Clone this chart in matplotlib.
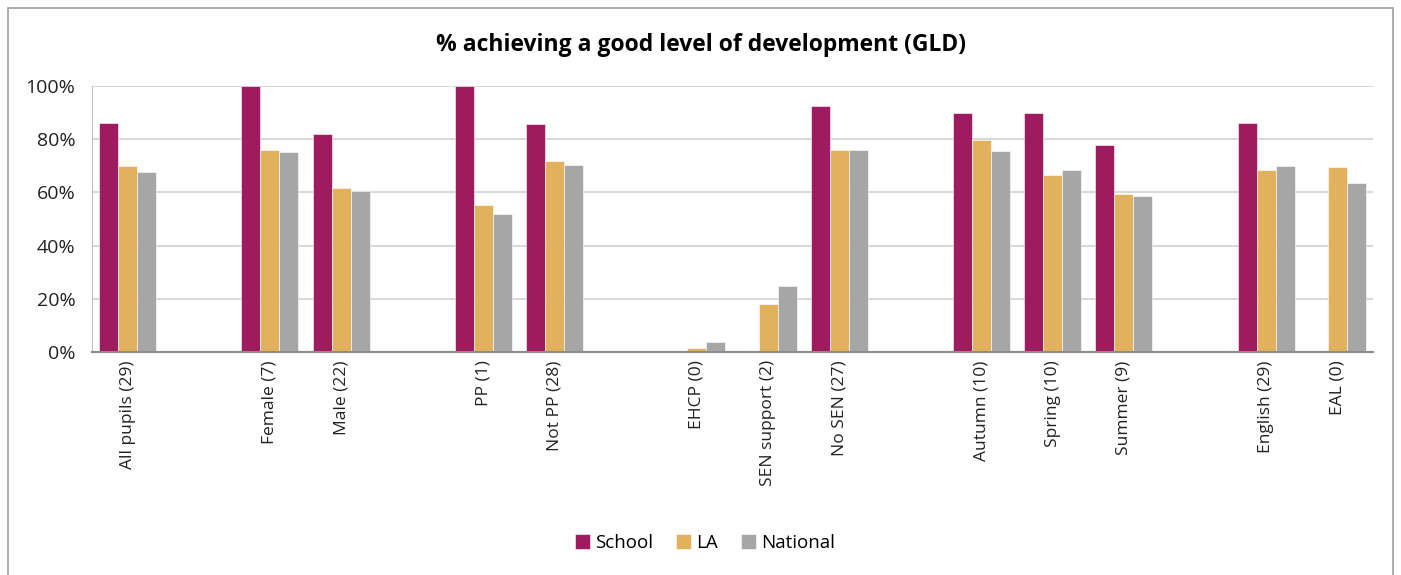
import matplotlib.pyplot as plt
import numpy as np
from matplotlib.patches import Rectangle

plt.rcParams['font.family'] = ['Open Sans', 'DejaVu Sans']

# blank strings are the spacer slots between groups
categories = ['All pupils (29)', '', 'Female (7)', 'Male (22)', '', 'PP (1)', 'Not PP (28)', '',
              'EHCP (0)', 'SEN support (2)', 'No SEN (27)', '', 'Autumn (10)', 'Spring (10)',
              'Summer (9)', '', 'English (29)', 'EAL (0)']
school = [86.2, 0, 100, 81.8, 0, 100, 85.7, 0, 0, 0, 92.6, 0, 90.0, 90.0, 77.8, 0, 86.2, 0]
la = [70.0, 0, 75.8, 61.5, 0, 55.3, 71.9, 0, 1.4, 18.2, 76.0, 0, 79.7, 66.4, 59.3, 0, 68.5, 69.7]
national = [67.8, 0, 75.2, 60.6, 0, 52.0, 70.4, 0, 3.6, 24.9, 75.8, 0, 75.7, 68.5, 58.8, 0, 69.9, 63.7]
series = ['School', 'LA', 'National']
colors = ['#9E1B5F', '#E2B15E', '#A6A6A6']

fig = plt.figure(figsize=(14.01, 5.75), dpi=100)
ax = fig.add_axes([92 / 1401, 1 - 352 / 575, (1373 - 92) / 1401, (352 - 86) / 575])

x = np.arange(len(categories))
w = 0.267
for i, (vals, name, c) in enumerate(zip([school, la, national], series, colors)):
    ax.bar(x + (i - 1) * w, vals, w, color=c, label=name, edgecolor='white', linewidth=0.4)

ax.set_xlim(-0.5, len(categories) - 0.5)
ax.set_ylim(0, 100)
ax.set_yticks(np.arange(0, 101, 20))
ax.set_yticklabels([f'{v}%' for v in range(0, 101, 20)], fontsize=14, color='#222222')
ax.set_xticks(x)
ax.set_xticklabels(categories, rotation=90, fontsize=12.5, color='#222222')
ax.tick_params(axis='x', length=0, pad=6)
ax.tick_params(axis='y', length=0, pad=12)
ax.yaxis.grid(True, color='#D9D9D9', linewidth=1.5)
ax.set_axisbelow(True)
for s in ['top', 'right']:
    ax.spines[s].set_visible(False)
ax.spines['left'].set_color('#BFBFBF')
ax.spines['bottom'].set_color('#8C8C8C')
ax.spines['bottom'].set_linewidth(1.5)

fig.text(0.5, 1 - 45 / 575, '% achieving a good level of development (GLD)', ha='center', va='center',
         fontsize=16.5, fontweight='bold')
fig.legend(loc='center', bbox_to_anchor=(705 / 1401, 1 - 543 / 575), ncol=3, frameon=False,
           fontsize=13.5, handlelength=0.8, handleheight=0.8, handletextpad=0.3, columnspacing=1.2)

fig.patches.append(Rectangle((8 / 1401, -0.01), 1385 / 1401, 1 - 8 / 575 + 0.01, transform=fig.transFigure,
                             fill=False, edgecolor='#A0A0A0', linewidth=1.2))

fig.savefig('out.png', dpi=100)
